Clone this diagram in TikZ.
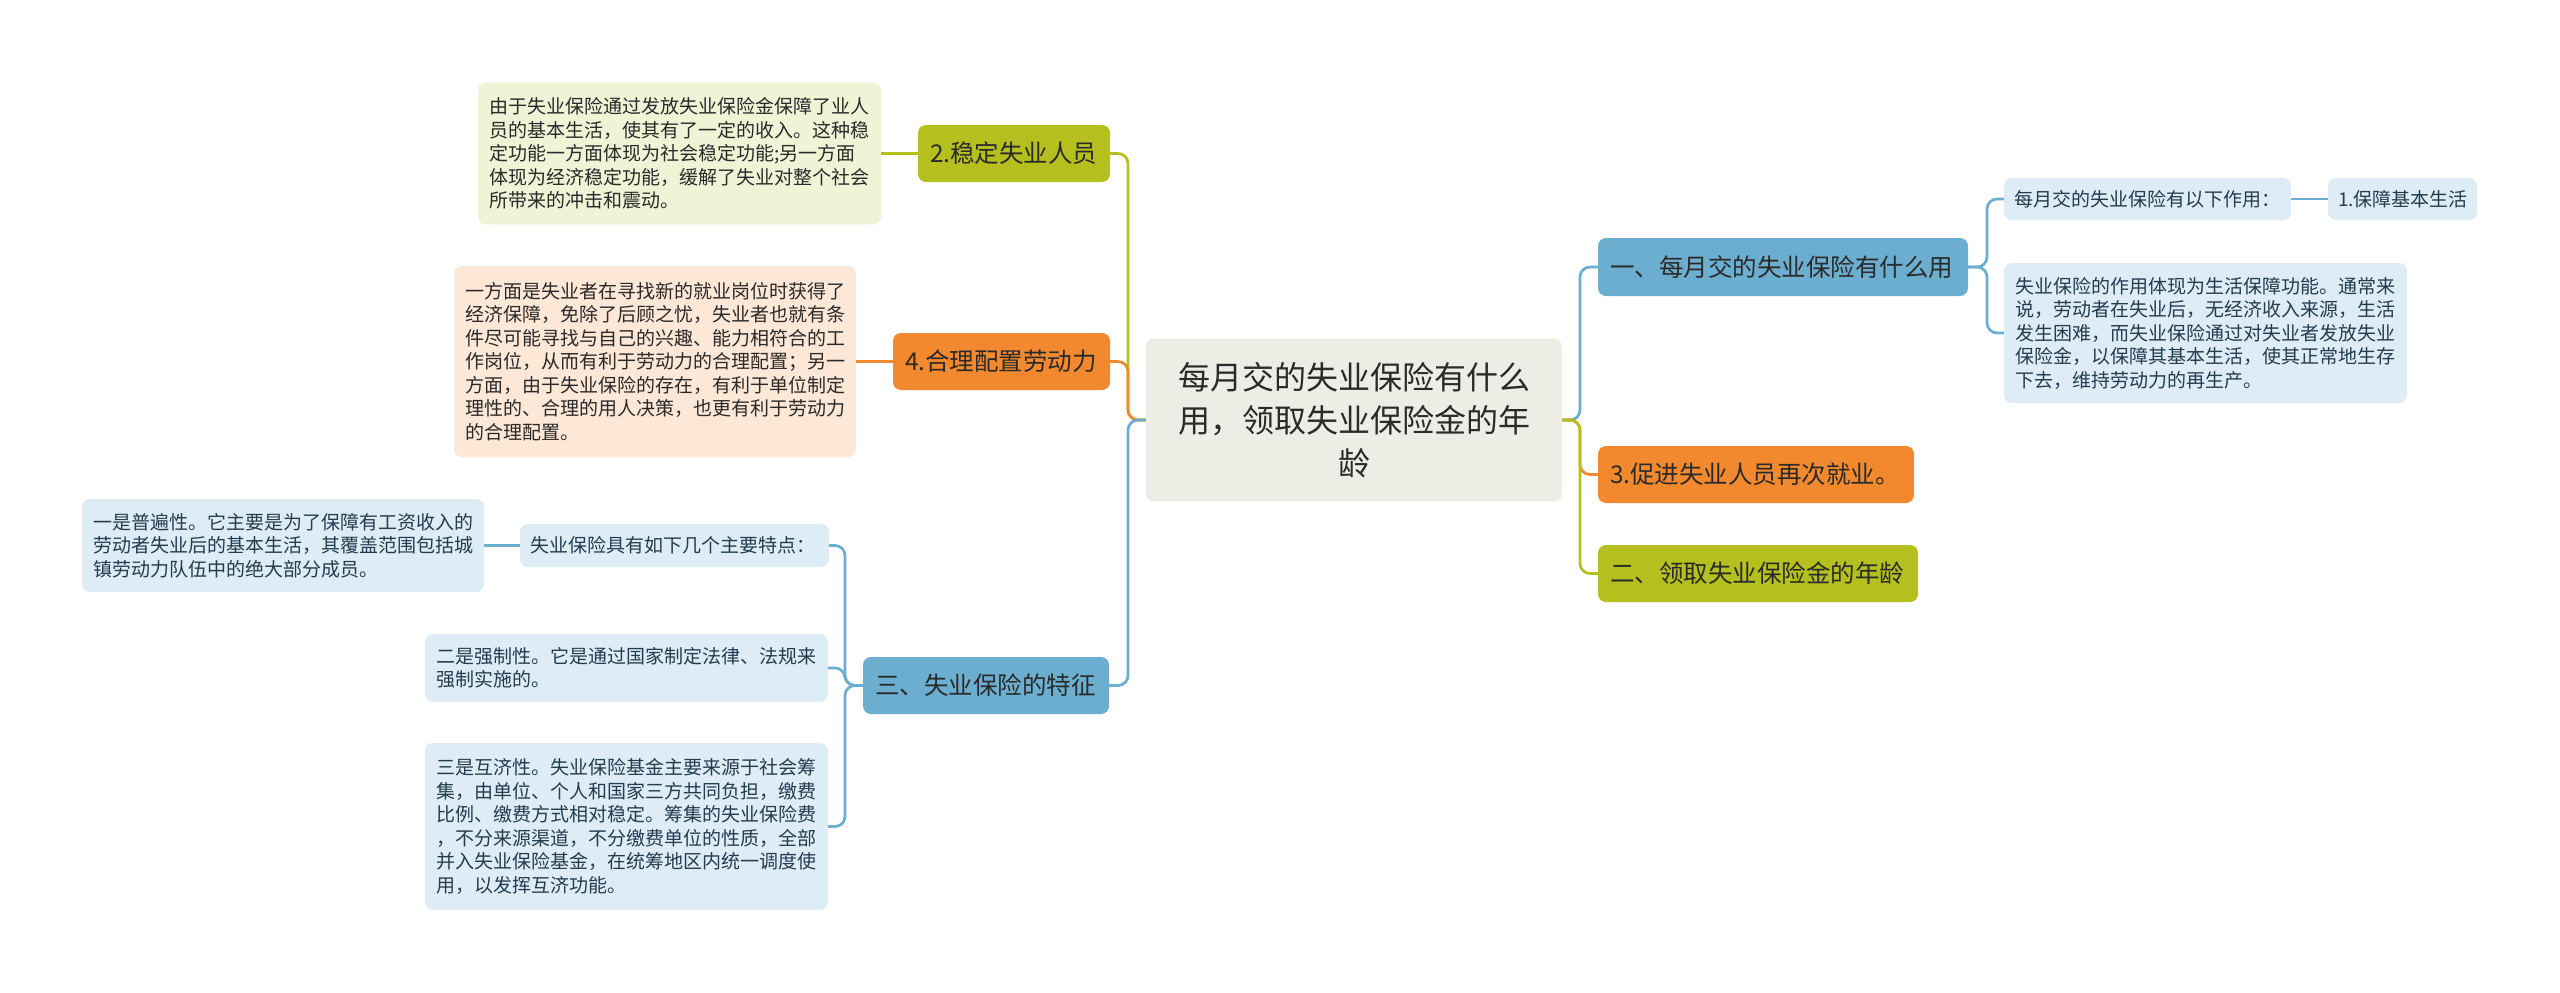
\documentclass[tikz,border=0pt]{standalone}
\usepackage{fontspec}
\setmainfont{Noto Sans CJK SC}
\definecolor{olv}{HTML}{B5BF1E}
\definecolor{orn}{HTML}{F3892E}
\definecolor{blu}{HTML}{6BAED0}
\definecolor{olvl}{HTML}{F1F3D6}
\definecolor{ornl}{HTML}{FDE7D6}
\definecolor{blul}{HTML}{DEEDF5}
\definecolor{rootc}{HTML}{EEEDE5}
\definecolor{txtd}{HTML}{2A2A2A}
\definecolor{txtb}{HTML}{233C4F}
\newcommand\mmroot{\fontsize{32pt}{43pt}\selectfont}
\newcommand\mmlone{\fontsize{24.5pt}{30pt}\selectfont}
\newcommand\mmleaf{\fontsize{19pt}{23.5pt}\selectfont}
\begin{document}
\begin{tikzpicture}[x=1pt,y=-1pt,
  box/.style={rectangle, rounded corners=8pt, inner ysep=0pt, align=left},
  rootbox/.style={box, fill=rootc, text=txtd, font=\mmroot, align=center, inner xsep=32pt},
  lone/.style={box, font=\mmlone, text=txtd, inner xsep=12pt, minimum height=57pt},
  leaf/.style={box, font=\mmleaf, inner xsep=11pt},
  lolv/.style={lone, fill=olv},
  lorn/.style={lone, fill=orn},
  lblu/.style={lone, fill=blu},
  folv/.style={leaf, fill=olvl, text=txtd},
  forn/.style={leaf, fill=ornl, text=txtd},
  fblu/.style={leaf, fill=blul, text=txtb},
  con/.style={line width=2.7pt, rounded corners=10pt},
  col/.style={con, draw=olv},
  cor/.style={con, draw=orn},
  cbl/.style={con, draw=blu}
]
\useasboundingbox (0,0) rectangle (2560,993);
\fill[white] (0,0) rectangle (2560,993);

% root
\node[rootbox, text width=352pt, minimum height=163pt] (root) at (1354,420)
  {每月交的失业保险有什么\\用，领取失业保险金的年\\龄};

% right side
\node[lblu, text width=346pt, minimum height=58pt] (b1) at (1783,267) {一、每月交的失业保险有什么用};
\node[fblu, inner xsep=10pt, text width=267pt, minimum height=42pt] (b1a) at (2147.5,199) {每月交的失业保险有以下作用：};
\node[fblu, inner xsep=10pt, text width=129pt, minimum height=42pt] (b1a1) at (2402.5,199) {1.保障基本生活};
\node[fblu, text width=381pt, minimum height=140pt] (b1b) at (2205.5,333)
  {失业保险的作用体现为生活保障功能。通常来\\说，劳动者在失业后，无经济收入来源，生活\\发生困难，而失业保险通过对失业者发放失业\\保险金，以保障其基本生活，使其正常地生存\\下去，维持劳动力的再生产。};
\node[lorn, text width=292pt] (b3) at (1756,474.5) {3.促进失业人员再次就业。};
\node[lolv, text width=296pt] (b4) at (1758,573.5) {二、领取失业保险金的年龄};

% left side
\node[lolv, text width=168pt] (l1) at (1014,153.5) {2.稳定失业人员};
\node[folv, text width=381pt, minimum height=142pt] (l1t) at (679.5,153.5)
  {由于失业保险通过发放失业保险金保障了业人\\员的基本生活，使其有了一定的收入。这种稳\\定功能一方面体现为社会稳定功能;另一方面\\体现为经济稳定功能，缓解了失业对整个社会\\所带来的冲击和震动。};
\node[lorn, text width=193pt] (l2) at (1001.5,361.5) {4.合理配置劳动力};
\node[forn, text width=380pt, minimum height=191pt] (l2t) at (655,361.5)
  {一方面是失业者在寻找新的就业岗位时获得了\\经济保障，免除了后顾之忧，失业者也就有条\\件尽可能寻找与自己的兴趣、能力相符合的工\\作岗位，从而有利于劳动力的合理配置；另一\\方面，由于失业保险的存在，有利于单位制定\\理性的、合理的用人决策，也更有利于劳动力\\的合理配置。};
\node[lblu, text width=222pt] (l3) at (986,685.5) {三、失业保险的特征};
\node[fblu, inner xsep=10pt, text width=289pt, minimum height=43pt] (l3a) at (674.5,545.5) {失业保险具有如下几个主要特点：};
\node[fblu, text width=380pt, minimum height=93pt] (l3a1) at (283,545.5)
  {一是普遍性。它主要是为了保障有工资收入的\\劳动者失业后的基本生活，其覆盖范围包括城\\镇劳动力队伍中的绝大部分成员。};
\node[fblu, text width=381pt, minimum height=68pt] (l3b) at (626.5,668)
  {二是强制性。它是通过国家制定法律、法规来\\强制实施的。};
\node[fblu, text width=381pt, minimum height=167pt] (l3c) at (626.5,826.5)
  {三是互济性。失业保险基金主要来源于社会筹\\集，由单位、个人和国家三方共同负担，缴费\\比例、缴费方式相对稳定。筹集的失业保险费\\，不分来源渠道，不分缴费单位的性质，全部\\并入失业保险基金，在统筹地区内统一调度使\\用，以发挥互济功能。};

% junction points
\coordinate (tr) at (1580,420);
\coordinate (tl) at (1128,420);
\coordinate (t1) at (1987,267);
\coordinate (t3) at (845,685.5);

% connectors right
\draw[cbl] (root.east) -- (tr) |- (b1.west);
\draw[cor] (root.east) -- (tr) |- (b3.west);
\draw[col] (root.east) -- (tr) |- (b4.west);
\draw[cbl] (b1.east) -- (t1) |- (b1a.west);
\draw[cbl] (b1.east) -- (t1) |- (b1b.west);
\draw[cbl] (b1a.east) -- (b1a1.west);

% connectors left
\draw[col] (root.west) -- (tl) |- (l1.east);
\draw[cor] (root.west) -- (tl) |- (l2.east);
\draw[cbl] (root.west) -- (tl) |- (l3.east);
\draw[col] (l1.west) -- (l1t.east);
\draw[cor] (l2.west) -- (l2t.east);
\draw[cbl] (l3.west) -- (t3) |- (l3a.east);
\draw[cbl] (l3.west) -- (t3) |- (l3b.east);
\draw[cbl] (l3.west) -- (t3) |- (l3c.east);
\draw[cbl] (l3a.west) -- (l3a1.east);
\end{tikzpicture}
\end{document}
